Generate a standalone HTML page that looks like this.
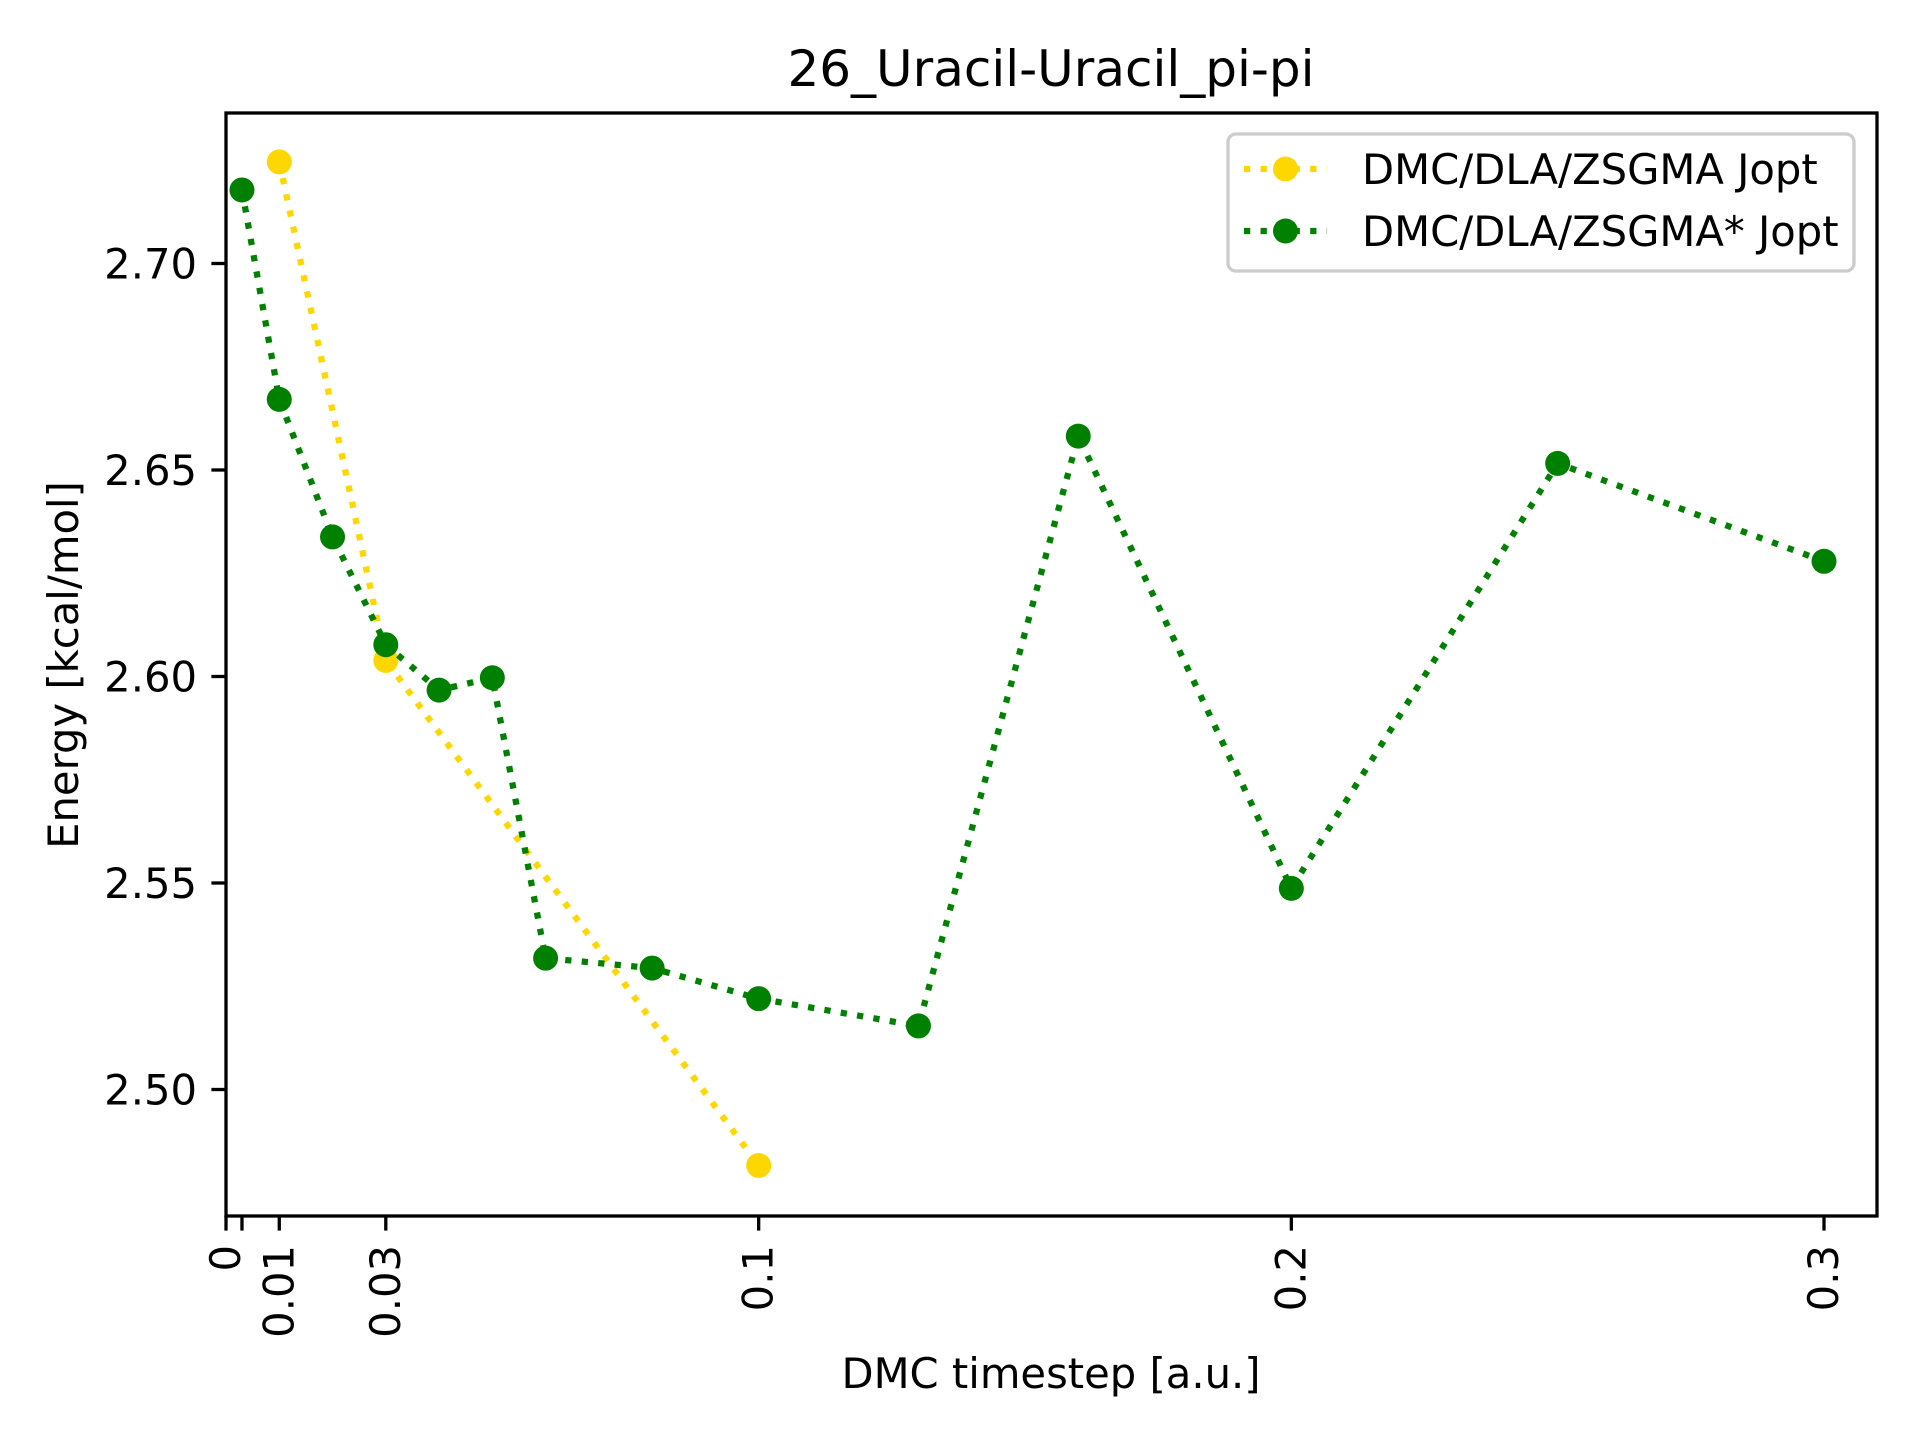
<!DOCTYPE html>
<html><head><meta charset="utf-8"><style>
html,body{margin:0;padding:0;background:#fff;}
svg{display:block;font-family:"DejaVu Sans","Liberation Sans",sans-serif;}
</style></head><body>
<svg id="chart" xmlns="http://www.w3.org/2000/svg" width="1920" height="1440" viewBox="0 0 1920 1440">
<rect width="1920" height="1440" fill="#fff"/>
<text x="1051" y="86" font-size="50" text-anchor="middle">26_Uracil-Uracil_pi-pi</text>
<g id="plot"></g>
<text x="1051" y="1388" font-size="41.7" text-anchor="middle">DMC timestep [a.u.]</text>
<text transform="translate(78,665) rotate(-90)" font-size="41.7" text-anchor="middle">Energy [kcal/mol]</text>
<rect x="226" y="113" width="1651" height="1103" fill="none" stroke="#000" stroke-width="3.3"/>
<g>
<rect x="1228" y="134" width="626" height="137" rx="8" fill="#fff" fill-opacity="0.8" stroke="#ccc" stroke-width="3.3"/>
<g>
<line x1="1244" y1="169" x2="1327" y2="169" stroke="#FFD700" stroke-width="6.25" stroke-dasharray="6.25 10.3"/>
<circle cx="1285.5" cy="169" r="12.5" fill="#FFD700"/>
<text x="1362" y="184" font-size="41.7">DMC/DLA/ZSGMA Jopt</text>
</g>
<g>
<line x1="1244" y1="231" x2="1327" y2="231" stroke="#008000" stroke-width="6.25" stroke-dasharray="6.25 10.3"/>
<circle cx="1285.5" cy="231" r="12.5" fill="#008000"/>
<text x="1362" y="246" font-size="41.7">DMC/DLA/ZSGMA* Jopt</text>
</g>
</g>
</svg>
<script>
const yellowX = [0.01, 0.03, 0.1];
const yellowY = [2.7246, 2.6039, 2.4816];
const greenX = [0.003, 0.01, 0.02, 0.03, 0.04, 0.05, 0.06, 0.08, 0.1, 0.13, 0.16, 0.2, 0.25, 0.3];
const greenY = [2.7178, 2.6671, 2.6338, 2.6077, 2.5967, 2.5997, 2.5318, 2.5294, 2.5220, 2.5154, 2.6582, 2.5487, 2.6516, 2.6279];
const xTicks = [0, 0.003, 0.01, 0.03, 0.1, 0.2, 0.3];
const xTickLabels = ["0", "", "0.01", "0.03", "0.1", "0.2", "0.3"];
const yTicks = [2.50, 2.55, 2.60, 2.65, 2.70];
const yTickLabels = ["2.50", "2.55", "2.60", "2.65", "2.70"];

const NS = "http://www.w3.org/2000/svg";
const plot = document.getElementById("plot");
function sx(v){ return 226 + v * (1824 - 226) / 0.3; }
function sy(v){ return 263.5 + (2.70 - v) * (1089.5 - 263.5) / 0.2; }
function mk(tag, attrs){ const e = document.createElementNS(NS, tag); for (const k in attrs) e.setAttribute(k, attrs[k]); plot.appendChild(e); return e; }

xTicks.forEach((t, i) => {
  const x = sx(t);
  const tk = mk("line", {x1: x, y1: 1216, x2: x, y2: 1230.6, stroke: "#000", "stroke-width": 3.3});
  
  
  if (xTickLabels[i]) {
    const tx = mk("text", {transform: `translate(${x + 14},1245) rotate(-90)`, "font-size": 41.7, "text-anchor": "end"});
    tx.textContent = xTickLabels[i];
    
    
  }
});
yTicks.forEach((t, i) => {
  const y = sy(t);
  const tk = mk("line", {x1: 211.4, y1: y, x2: 226, y2: y, stroke: "#000", "stroke-width": 3.3});
  
  
  const tx = mk("text", {x: 197, y: y + 15, "font-size": 41.7, "text-anchor": "end"});
  tx.textContent = yTickLabels[i];
  
  
});

function series(xs, ys, color, name){
  const pts = xs.map((x, i) => sx(x) + "," + sy(ys[i])).join(" ");
  const pl = mk("polyline", {points: pts, fill: "none", stroke: color, "stroke-width": 6.25, "stroke-dasharray": "6.25 10.3"});
  
  
  xs.forEach((x, i) => {
    const c = mk("circle", {cx: sx(x), cy: sy(ys[i]), r: 12.5, fill: color});
    
    
  });
}
series(yellowX, yellowY, "#FFD700", "zsgma");
series(greenX, greenY, "#008000", "zsgma-star");
</script>
</body></html>
